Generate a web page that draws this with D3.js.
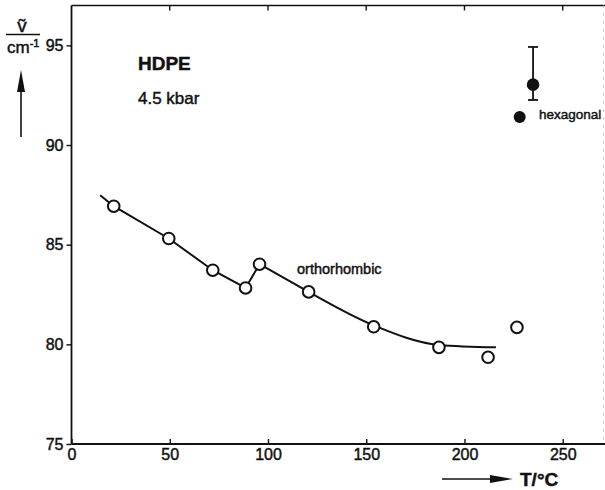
<!DOCTYPE html>
<html><head><meta charset="utf-8">
<script src="https://cdn.jsdelivr.net/npm/d3@7"></script>
<style>body{margin:0;background:#fff}svg{display:block}text{font-family:"Liberation Sans",Arial,sans-serif;fill:#111;stroke:#111;stroke-width:0.45px}</style>
</head><body><svg id="c" width="605" height="490"></svg>
<script>
// orthorhombic measurements (open circles)
const orthoT = [21.5, 49.5, 71.9, 88.6, 95.7, 120.7, 153.8, 187, 212, 226.7];
const orthoV = [86.93, 85.31, 83.72, 82.83, 84.02, 82.63, 80.88, 79.85, 79.35, 80.85];
// drawn guide line: straight part, then smooth part
const lineAT = [14.6, 21.5, 49.5, 71.9, 88.6, 95.7, 120.7];
const lineAV = [87.48, 86.93, 85.31, 83.72, 82.83, 84.02, 82.63];
const lineBT = [120.7, 153.8, 187, 216];
const lineBV = [82.63, 80.95, 79.97, 79.85];
// hexagonal (filled)
const hexT = [234.9, 228.1];
const hexV = [93.03, 91.41];
const hexErrLo = [92.26, null];
const hexErrHi = [94.92, null];
const xTicks = [0, 50, 100, 150, 200, 250];
const yTicks = [75, 80, 85, 90, 95];

const svg = d3.select("#c");
const x = d3.scaleLinear().domain([0, 270.5]).range([71.5, 603]);
const y = d3.scaleLinear().domain([75, 97]).range([444, 5.5]);
const ink = "#111";

// frame
svg.append("line").attr("x1", x(0)).attr("x2", 605).attr("y1", y(97)).attr("y2", y(97)).attr("stroke", ink).attr("stroke-width", 1.6);
svg.append("line").attr("x1", 603.5).attr("x2", 603.5).attr("y1", y(97)).attr("y2", y(75)).attr("stroke", "#bbb").attr("stroke-width", 1).attr("stroke-dasharray", "2,6");
// top ticks
svg.append("g").selectAll("line").data(xTicks.slice(1)).join("line")
  .attr("x1", d => x(d)).attr("x2", d => x(d)).attr("y1", y(97)).attr("y2", y(97) + 5)
  .attr("stroke", ink).attr("stroke-width", 1.4);

const ax = svg.append("g").attr("transform", `translate(0,${y(75)})`)
  .call(d3.axisBottom(x).tickValues(xTicks).tickSizeInner(-5).tickSizeOuter(0).tickPadding(5));
const ay = svg.append("g").attr("transform", `translate(${x(0)},0)`)
  .call(d3.axisLeft(y).tickValues(yTicks).tickSizeInner(5).tickSizeOuter(0).tickPadding(3));
[ax, ay].forEach(g => {
  g.select(".domain").attr("stroke", ink).attr("stroke-width", 1.8);
  g.selectAll(".tick line").attr("stroke", ink).attr("stroke-width", 1.4);
  g.selectAll(".tick text").attr("font-size", 16).attr("font-family", "Liberation Sans, Arial, sans-serif").attr("fill", ink).attr("stroke", ink).attr("stroke-width", 0.5);
});
ax.select(".domain").attr("d", `M${x(0)},0H605`);
ay.select(".domain").attr("d", `M0,${y(97)}V${y(75)}`);

// guide lines
const pa = lineAT.map((t, i) => [x(t), y(lineAV[i])]);
const pb = lineBT.map((t, i) => [x(t), y(lineBV[i])]);
svg.append("path").attr("d", d3.line()(pa)).attr("fill", "none").attr("stroke", ink).attr("stroke-width", 2);
svg.append("path").attr("d", d3.line().curve(d3.curveMonotoneX)(pb)).attr("fill", "none").attr("stroke", ink).attr("stroke-width", 2);

// open circles
svg.append("g").selectAll("circle").data(orthoT).join("circle")
  .attr("cx", d => x(d)).attr("cy", (d, i) => y(orthoV[i])).attr("r", 5.8)
  .attr("fill", "#fff").attr("stroke", ink).attr("stroke-width", 2);

// hexagonal error bar
hexT.forEach((t, i) => {
  if (hexErrLo[i] == null) return;
  const cx = x(t);
  svg.append("line").attr("x1", cx).attr("x2", cx).attr("y1", y(hexErrHi[i])).attr("y2", y(hexErrLo[i])).attr("stroke", ink).attr("stroke-width", 1.8);
  [hexErrHi[i], hexErrLo[i]].forEach(v => svg.append("line").attr("x1", cx - 5).attr("x2", cx + 5).attr("y1", y(v)).attr("y2", y(v)).attr("stroke", ink).attr("stroke-width", 1.8));
});
svg.append("g").selectAll("circle").data(hexT).join("circle")
  .attr("cx", d => x(d)).attr("cy", (d, i) => y(hexV[i])).attr("r", (d, i) => i === 0 ? 6.3 : 6)
  .attr("fill", ink);

// annotations
svg.append("text").attr("x", 138).attr("y", 70).attr("font-size", 19).attr("font-weight", "bold").text("HDPE");
svg.append("text").attr("x", 138).attr("y", 104).attr("font-size", 17).text("4.5 kbar");
svg.append("text").attr("x", 297).attr("y", 274).attr("font-size", 14.5).text("orthorhombic");
svg.append("text").attr("x", 539).attr("y", 119).attr("font-size", 13.5).text("hexagonal");

// y-axis label
svg.append("text").attr("x", 22).attr("y", 32).attr("font-size", 19).attr("text-anchor", "middle").text("ṽ");
svg.append("line").attr("x1", 6).attr("x2", 40).attr("y1", 34.5).attr("y2", 34.5).attr("stroke", ink).attr("stroke-width", 1.6);
const cm = svg.append("text").attr("x", 7).attr("y", 52.5).attr("font-size", 17);
cm.append("tspan").text("cm");
cm.append("tspan").attr("font-size", 11).attr("dy", -6).text("-1");
svg.append("line").attr("x1", 21).attr("x2", 21).attr("y1", 137).attr("y2", 85).attr("stroke", ink).attr("stroke-width", 1.6);
svg.append("path").attr("d", "M21,70 L17,92 L25,92 Z").attr("fill", ink);

// x-axis label
svg.append("line").attr("x1", 442).attr("x2", 495).attr("y1", 479).attr("y2", 479).attr("stroke", ink).attr("stroke-width", 1.6);
svg.append("path").attr("d", "M513,479 L490,475 L490,483 Z").attr("fill", ink);
svg.append("text").attr("x", 520).attr("y", 486).attr("font-size", 19).attr("font-weight", "bold").text("T/°C");
</script></body></html>
